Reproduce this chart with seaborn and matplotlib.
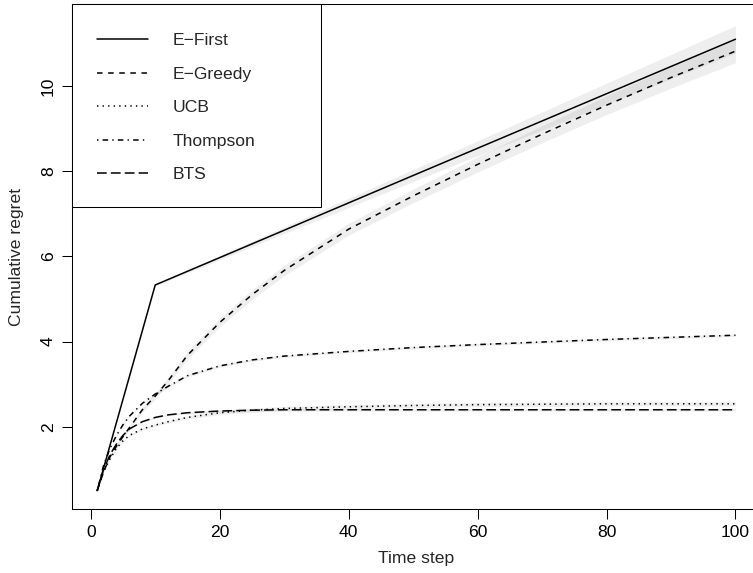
import numpy as np
import pandas as pd
import matplotlib
matplotlib.use('Agg')
import matplotlib.pyplot as plt
from matplotlib.patches import Rectangle
import seaborn as sns

sns.set_style("white")
plt.rcParams['font.family'] = ['Liberation Sans', 'DejaVu Sans']
plt.rcParams['lines.scale_dashes'] = False

# values
t_first = [1, 10, 50, 100]
efirst = [0.5, 5.33, 7.9, 11.1]
efirst_sd = [0.0, 0.02, 0.14, 0.32]

t = [1, 2, 3, 4, 5, 6, 8, 10, 12, 15, 20, 25, 30, 40, 50, 60, 70, 80, 90, 100]
egreedy = [0.5, 0.95, 1.3, 1.55, 1.77, 1.98, 2.4, 2.72, 3.08, 3.68, 4.45, 5.1, 5.67, 6.64, 7.42,
           8.16, 8.87, 9.55, 10.2, 10.82]
egreedy_sd = [0, .02, .03, .04, .05, .05, .06, .07, .08, .09, .1, .11, .12, .14, .16, .18, .2, .22, .25, .27]
ucb = [0.5, 0.95, 1.25, 1.5, 1.67, 1.8, 1.95, 2.04, 2.12, 2.22, 2.33, 2.39, 2.43, 2.47, 2.5,
       2.52, 2.53, 2.54, 2.54, 2.54]
ucb_sd = [0, .01, .01, .02, .02, .02, .03, .03, .03, .04, .04, .05, .05, .05, .05, .05, .05, .05, .05, .05]
thompson = [0.5, 1.1, 1.5, 1.8, 2.05, 2.25, 2.55, 2.77, 2.95, 3.2, 3.43, 3.57, 3.66, 3.77, 3.86,
            3.93, 3.99, 4.05, 4.1, 4.15]
thompson_sd = [0, .01, .01, .02, .02, .02, .02, .03, .03, .03, .03, .03, .03, .03, .03, .03, .03, .03, .03, .03]
bts = [0.5, 1.0, 1.35, 1.6, 1.8, 1.95, 2.12, 2.22, 2.28, 2.33, 2.37, 2.39, 2.4, 2.4, 2.4,
       2.4, 2.4, 2.4, 2.4, 2.4]
bts_sd = [0, .01, .01, .01, .02, .02, .02, .02, .02, .03, .03, .03, .03, .03, .03, .03, .03, .03, .03, .03]

labels = ['E\u2212First', 'E\u2212Greedy', 'UCB', 'Thompson', 'BTS']
styles = ['-', (0, (4, 4)), (0, (1, 3)), (0, (1, 3, 4, 3)), (0, (7, 3))]

series = [
    (t_first, efirst, efirst_sd),
    (t, egreedy, egreedy_sd),
    (t, ucb, ucb_sd),
    (t, thompson, thompson_sd),
    (t, bts, bts_sd),
]

fs = 12.6
fig = plt.figure(figsize=(7.53, 5.73), dpi=100)
ax = fig.add_axes([0.0952, 0.1117, 0.9154, 0.8808])

# confidence bands first
for x, y, sd in series:
    y = np.array(y)
    sd = np.array(sd)
    ax.fill_between(x, y - sd, y + sd, color='gray', alpha=0.13, linewidth=0, zorder=1)

for (x, y, sd), lab, ls in zip(series, labels, styles):
    df = pd.DataFrame({'t': x, 'regret': y})
    sns.lineplot(data=df, x='t', y='regret', ax=ax, color='black', linewidth=1.1,
                 linestyle=ls, label=lab, zorder=3)

ax.set_xlim(-2.96, 103.96)
ax.set_ylim(0.07, 11.92)
ax.set_xticks([0, 20, 40, 60, 80, 100])
ax.set_yticks([2, 4, 6, 8, 10])
ax.tick_params(bottom=True, left=True, direction='out', length=7.4, width=0.75,
               labelsize=fs, colors='black')
ax.tick_params(axis='x', pad=4)
ax.tick_params(axis='y', pad=4)
plt.setp(ax.get_yticklabels(), rotation=90, va='center')
for s in ax.spines.values():
    s.set_color('black')
    s.set_linewidth(0.75)

ax.set_xlabel('Time step', fontsize=fs)
ax.set_ylabel('Cumulative regret', fontsize=fs)
ax.xaxis.set_label_coords(0.5, -0.083)
ax.yaxis.set_label_coords(-0.069, 0.5)

# legend box in the top-left corner
ax.add_patch(Rectangle((0, 0.598), 0.3617, 0.402, transform=ax.transAxes, facecolor='white',
                       edgecolor='black', linewidth=0.75, zorder=4, clip_on=False))
handles, labs = ax.get_legend_handles_labels()
leg = ax.legend(handles, labs, loc='upper left', bbox_to_anchor=(0.0367, 0.943), frameon=False,
                borderaxespad=0, borderpad=0, fontsize=fs, handlelength=2.9,
                handletextpad=1.45, labelspacing=1.04)
leg.set_zorder(5)

fig.savefig('out.png', dpi=100)
